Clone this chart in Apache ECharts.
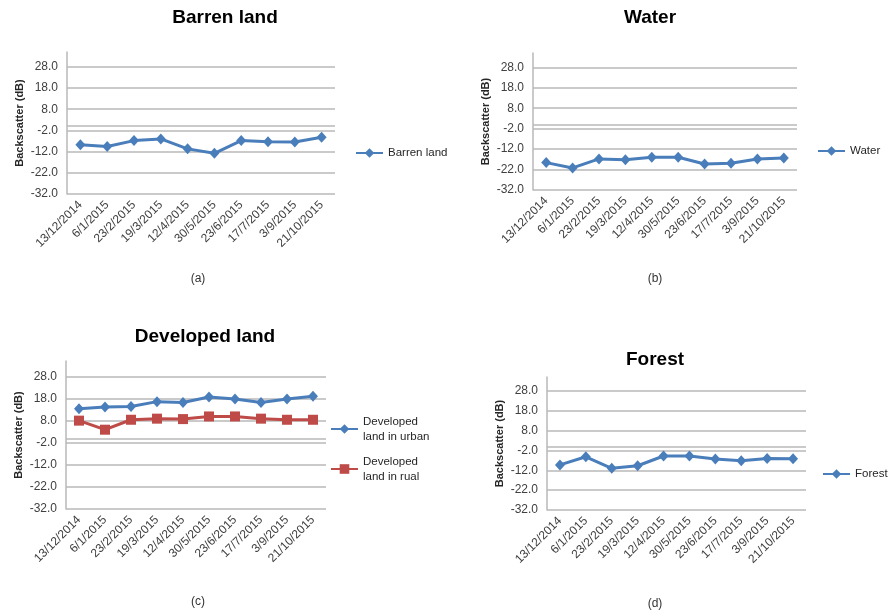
<!DOCTYPE html>
<html>
<head>
<meta charset="utf-8">
<script src="https://cdn.jsdelivr.net/npm/echarts@6/dist/echarts.min.js"></script>
<style>html,body{margin:0;padding:0;background:#fff;}#c{width:890px;height:616px;}</style>
</head>
<body>
<div id="c"></div>
<script>
const dates = ['13/12/2014','6/1/2015','23/2/2015','19/3/2015','12/4/2015','30/5/2015','23/6/2015','17/7/2015','3/9/2015','21/10/2015'];
const barrenLand = [-8.8, -9.6, -6.8, -6.0, -10.7, -12.8, -6.8, -7.4, -7.5, -5.2];
const water = [-18.6, -21.2, -16.8, -17.2, -16.0, -16.0, -19.3, -18.9, -16.8, -16.4];
const developedUrban = [13.4, 14.2, 14.4, 16.6, 16.2, 18.7, 17.8, 16.2, 17.8, 19.0];
const developedRural = [8.0, 3.9, 8.4, 8.9, 8.7, 9.9, 9.9, 8.9, 8.4, 8.4];
const forest = [-9.3, -5.2, -11.0, -9.7, -4.8, -4.8, -6.3, -7.2, -6.0, -6.2];
const panelTitles = ['Barren land', 'Water', 'Developed land', 'Forest'];
const captions = ['(a)', '(b)', '(c)', '(d)'];
const yName = 'Backscatter (dB)';

const FONT = '"Liberation Sans", Arial, sans-serif';
const BLUE = '#4A7EBB';
const RED = '#BE4B48';
const GRIDC = '#b8b8b8';

const grids = [
  {left: 67, top: 52, width: 268, height: 142},
  {left: 533, top: 53, width: 264, height: 137},
  {left: 66, top: 361, width: 260, height: 148},
  {left: 547, top: 377, width: 259, height: 133}
];

const xAxes = grids.map((g, i) => ({
  type: 'category', gridIndex: i, data: dates, boundaryGap: true,
  axisLine: {show: false}, axisTick: {show: false},
  axisLabel: {rotate: 45, fontSize: 12, color: '#404040', fontFamily: FONT, margin: 9, interval: 0}
}));
const yAxes = grids.map((g, i) => ({
  type: 'value', gridIndex: i, min: -32, max: 35, interval: 10,
  name: yName, nameLocation: 'middle', nameGap: 42,
  nameTextStyle: {fontSize: 11, fontWeight: 'bold', color: '#262626', fontFamily: FONT},
  axisLine: {show: true, lineStyle: {color: GRIDC, width: 1.5}},
  axisTick: {show: false},
  splitLine: {show: true, showMaxLine: false, lineStyle: {color: GRIDC, width: 1.5}},
  axisLabel: {showMaxLabel: false, fontSize: 12, color: '#404040', fontFamily: FONT, margin: 9,
    formatter: v => v.toFixed(1)}
}));

const zeroLine = {
  silent: true, symbol: 'none', label: {show: false},
  lineStyle: {color: GRIDC, width: 1.5, type: 'solid'},
  data: [{yAxis: 0}]
};

function lineSeries(name, data, idx, color, symbol, size, withZero) {
  const s = {
    name, type: 'line', data, xAxisIndex: idx, yAxisIndex: idx,
    color, symbol, symbolSize: size, showAllSymbol: true,
    lineStyle: {color, width: 3}, itemStyle: {color},
    z: 3
  };
  if (withZero) s.markLine = zeroLine;
  return s;
}

const series = [
  lineSeries('Barren land', barrenLand, 0, BLUE, 'diamond', [10, 11], true),
  lineSeries('Water', water, 1, BLUE, 'diamond', [10, 11], true),
  lineSeries('Developed land in urban', developedUrban, 2, BLUE, 'diamond', [10, 11], true),
  lineSeries('Developed land in rual', developedRural, 2, RED, 'rect', 10, false),
  lineSeries('Forest', forest, 3, BLUE, 'diamond', [10, 11], true)
];

const legText = {fontSize: 11.5, color: '#262626', fontFamily: FONT};
function leg(name, left, cy, twoLine) {
  const o = {
    data: [name], left, top: cy - 6, itemWidth: 27, itemHeight: 12, itemGap: 2, padding: 0,
    textStyle: Object.assign({}, legText), selectedMode: false
  };
  if (twoLine) {
    o.formatter = n => n.replace(' land in', '\nland in');
    o.textStyle.lineHeight = 15;
    o.textStyle.padding = [15, 0, 0, 0];
    o.top = cy - 22.5;
  }
  return o;
}
const legends = [
  leg('Barren land', 355, 153, false),
  leg('Water', 817, 151, false),
  leg('Developed land in urban', 330, 429, true),
  leg('Developed land in rual', 330, 469, true),
  leg('Forest', 822, 474, false)
];

const titleStyle = {fontSize: 19, fontWeight: 'bold', color: '#000', fontFamily: FONT};
const capStyle = {fontSize: 12, fontWeight: 'normal', color: '#333', fontFamily: FONT};
const titlePos = [[225, 8], [650, 8], [205, 327], [655, 350]];
const capPos = [[198, 273], [655, 273], [198, 596], [655, 598]];
const titles = [];
panelTitles.forEach((t, i) => titles.push({text: t, left: titlePos[i][0], top: titlePos[i][1], textAlign: 'center', padding: 0, textStyle: titleStyle}));
captions.forEach((t, i) => titles.push({text: t, left: capPos[i][0], top: capPos[i][1], textAlign: 'center', padding: 0, textStyle: capStyle}));

const chart = echarts.init(document.getElementById('c'), null, {renderer: 'canvas'});
chart.setOption({
  backgroundColor: '#fff',
  animation: false,
  title: titles,
  grid: grids,
  xAxis: xAxes,
  yAxis: yAxes,
  legend: legends,
  series
});
</script>
</body>
</html>
